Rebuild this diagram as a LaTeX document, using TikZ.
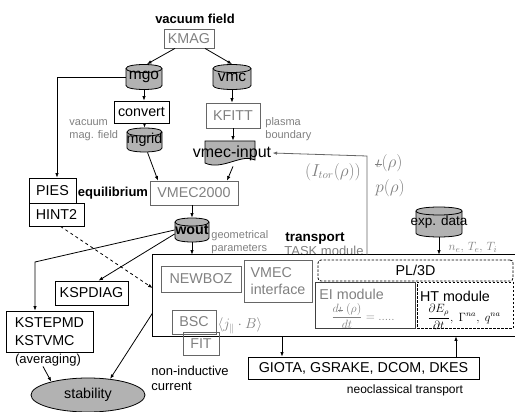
\documentclass[tikz,border=0pt]{standalone}
\usepackage{fontspec}
\setmainfont{Liberation Sans}
\usetikzlibrary{arrows.meta,shapes.geometric}
\definecolor{tg}{gray}{0.5}
\definecolor{bg}{gray}{0.4}
\definecolor{cylc}{gray}{0.7}
\newcommand\ib{\mbox{\ooalign{$\iota$\cr\hidewidth\rule[0.25ex]{0.45em}{0.05em}\hidewidth\cr}}}
\newcommand\cyl[6]{%
 \filldraw[cylst] (#2-#4/2,#3-#5/2+4) -- (#2-#4/2,#3+#5/2-4) .. controls (#2-#4/2,#3+#5/2+4/3) and (#2+#4/2,#3+#5/2+4/3) .. (#2+#4/2,#3+#5/2-4) -- (#2+#4/2,#3-#5/2+4) .. controls (#2+#4/2,#3-#5/2-4/3) and (#2-#4/2,#3-#5/2-4/3) .. (#2-#4/2,#3-#5/2+4) -- cycle;
 \draw (#2-#4/2,#3-#5/2+4) .. controls (#2-#4/2,#3-#5/2+28/3) and (#2+#4/2,#3-#5/2+28/3) .. (#2+#4/2,#3-#5/2+4);
 \node[inner sep=0pt,minimum width=#4,minimum height=#5] (#1) at (#2,#3) {\raisebox{-2.5pt}{#6}};}
\begin{document}
\begin{tikzpicture}[x=1pt,y=-1pt, line width=0.8pt,
 arr/.style={-{Latex[length=4.5pt,width=3.5pt]}},
 f14/.style={font=\fontsize{14.3}{16}\selectfont},
 f13/.style={font=\fontsize{13}{15}\selectfont},
 f11/.style={font=\fontsize{11}{13}\selectfont},
 bx/.style={draw=black, inner sep=0pt, f14},
 gbx/.style={draw=bg, text=tg, inner sep=0pt, f14},
 dsh/.style={draw=black, dash pattern=on 2.5pt off 1.5pt},
 cylst/.style={fill=cylc, draw=black}]
\useasboundingbox (0,0) rectangle (515,412);

\node[font=\fontsize{13}{15}\selectfont\bfseries, inner sep=0] (vf) at (195,19) {vacuum field};
\node[gbx, minimum width=50, minimum height=19] (kmag) at (189,38.5) {KMAG};
\cyl{mgo}{144}{77}{36}{25}{\fontsize{15.5}{18}\selectfont mgo}
\cyl{vmc}{232}{77}{38}{25}{\fontsize{15.5}{18}\selectfont vmc}
\node[bx, minimum width=55, minimum height=22] (convert) at (141.5,112) {convert};
\node[gbx, minimum width=54, minimum height=25] (kfitt) at (233,115.5) {KFITT};
\node[f11, text=tg, align=left, anchor=north west, inner sep=0] (vmf) at (69,119) {vacuum\\mag. field};
\node[f11, text=tg, align=left, anchor=north west, inner sep=0] (pb) at (265,117) {plasma\\boundary};
\cyl{mgrid}{144.5}{140}{35}{24}{\fontsize{14.3}{16}\selectfont mgrid}

\filldraw[cylst] (205,141) -- (255,141) -- (255,160) .. controls (242,153) and (222,171) .. (205,163) -- cycle;
\node[inner sep=0pt, minimum width=50, minimum height=25] (vinshape) at (230,153.5) {};
\node[font=\fontsize{16}{18}\selectfont, inner sep=1pt] (vin) at (232,153) {vmec-input};

\node[gbx, minimum width=88, minimum height=24] (vmec) at (194,193) {VMEC2000};
\node[bx, minimum width=47, minimum height=25] (pies) at (52.5,190.5) {PIES};
\node[bx, minimum width=55, minimum height=23] (hint) at (56.5,214.5) {HINT2};
\node[font=\fontsize{13}{15}\selectfont\bfseries, inner sep=0] (eq) at (113,193) {equilibrium};
\cyl{wout}{192}{230}{34}{24}{\fontsize{14.3}{16}\selectfont\bfseries wout}
\node[f11, text=tg, align=left, anchor=north west, inner sep=0] (gp) at (211,230) {geometrical\\parameters};
\node[font=\fontsize{13.5}{15}\selectfont\bfseries, inner sep=0] (tr) at (315,238) {transport};
\node[f13, text=tg, inner sep=0, anchor=east] (tm) at (364,251) {TASK module};

\node[text=tg, font=\fontsize{16}{18}\selectfont, inner sep=0] (iota) at (389,163) {$\ib(\rho)$};
\node[text=tg, font=\fontsize{16}{18}\selectfont, inner sep=0] (prho) at (390,188) {$p(\rho)$};
\node[text=tg, font=\fontsize{16}{18}\selectfont, inner sep=0] (itor) at (333,172) {$(I_{tor}(\rho))$};

\cyl{exp}{439}{222}{46}{30}{\fontsize{13.5}{15}\selectfont exp. data}
\node[text=tg, font=\fontsize{13}{15}\selectfont, inner sep=0] (nte) at (473,248) {$n_e,\,T_e,\,T_i$};

\node[minimum width=362, minimum height=81, inner sep=0] (task) at (334,295.5) {};
\draw (task.north east) -- (task.north west) -- (task.south west) -- (task.south east);

\node[gbx, minimum width=80, minimum height=26] (newboz) at (201,279) {NEWBOZ};
\node[gbx, minimum width=68, minimum height=42, align=left, font=\fontsize{14.3}{17}\selectfont] (vif) at (278,281) {VMEC\\interface};
\node[dsh, rounded corners=3pt, minimum width=195, minimum height=21, f14, inner sep=0] (pl) at (415.5,270.5) {PL/3D};
\node[draw=black!75, minimum width=100, minimum height=46, inner sep=0] (ei) at (365,305) {};
\node[f14, text=tg, anchor=west, inner sep=0] (eit) at (319,294) {EI module};
\node[text=tg, font=\fontsize{12}{14}\selectfont, inner sep=0] (eim) at (363,316) {$\displaystyle\frac{d\ib\;(\rho)}{dt}=.....$};
\node[dsh, minimum width=96, minimum height=46, inner sep=0] (ht) at (465,305) {};
\node[f14, inner sep=0] (htt) at (455,296) {HT module};
\node[font=\fontsize{12}{14}\selectfont, inner sep=0] (htm) at (464,317) {$\displaystyle\frac{\partial E_\rho}{\partial t},\ \Gamma^{na},\ q^{na}$};

\node[gbx, minimum width=44, minimum height=24] (bsc) at (194,322) {BSC};
\node[text=tg, font=\fontsize{14}{16}\selectfont, inner sep=0] (jb) at (240,326) {$\langle j_{\parallel}\cdot B\rangle$};
\node[gbx, minimum width=36, minimum height=23] (fit) at (201,343.5) {FIT};
\node[f13, align=left, anchor=north west, inner sep=0] (nic) at (151,366) {non-inductive\\current};
\node[bx, minimum width=231, minimum height=22] (giota) at (363.5,368) {GIOTA, GSRAKE, DCOM, DKES};
\node[font=\fontsize{12}{14}\selectfont, inner sep=0] (nct) at (405,390) {neoclassical transport};
\node[bx, minimum width=73, minimum height=24] (kspd) at (91.5,293) {KSPDIAG};
\node[bx, minimum width=87, minimum height=41, align=left, font=\fontsize{14.3}{18}\selectfont] (kst) at (49.5,331.5) {KSTEPMD\\KSTVMC};
\node[f13, inner sep=0] (avg) at (48,360) {(averaging)};
\node[ellipse, draw, fill=cylc, minimum width=114, minimum height=34, inner sep=0, f14] (stab) at (88,395) {stability};

\draw[arr] ([xshift=-14pt]kmag.south) -- ([xshift=3pt]mgo.north);
\draw[arr] ([xshift=16pt]kmag.south) -- (vmc.north);
\draw[arr] (mgo.south) -- (mgo.south |- convert.north);
\draw[arr] (vmc.south) -- (vmc.south |- kfitt.north);
\draw[arr] (convert.south -| mgrid.north) -- (mgrid.north);
\draw[arr] (kfitt.south) -- (kfitt.south |- vinshape.north);
\draw[arr] ([xshift=3pt]mgrid.south) -- ([xshift=-36pt]vmec.north);
\draw[arr] ([xshift=3pt]vinshape.south) -- ([xshift=33pt]vmec.north);
\draw[arr] (mgo.west) -| ([xshift=4.5pt]pies.north);
\draw[arr] (vmec.south -| wout.north) -- (wout.north);
\draw[arr] (wout.south) -- (wout.south |- task.north);
\coordinate (bk) at (35,262);
\draw[arr] (wout.west) -- (bk) -- (bk |- kst.north);
\draw[arr] ([yshift=-4pt]wout.west) -- ([xshift=7pt]kspd.north);
\draw[arr, dashed] ([xshift=4pt]hint.south) -- ([yshift=7.5pt]task.west);
\draw[arr] ([yshift=-17.5pt]task.west) -- (stab.36);
\draw[arr] ([xshift=-5pt]avg.south) -- (stab.160);
\coordinate (tk) at (367,156);
\draw[arr, draw=black!60] (task.north -| tk) -- (tk) -- (vin.east);
\draw[arr] (exp.south) -- (exp.south |- task.north);
\coordinate (c1) at (282,0);
\coordinate (c2) at (456,0);
\draw[arr] (task.south -| c1) -- (giota.north -| c1);
\draw[arr] (giota.north -| c2) -- (task.south -| c2);
\end{tikzpicture}
\end{document}
